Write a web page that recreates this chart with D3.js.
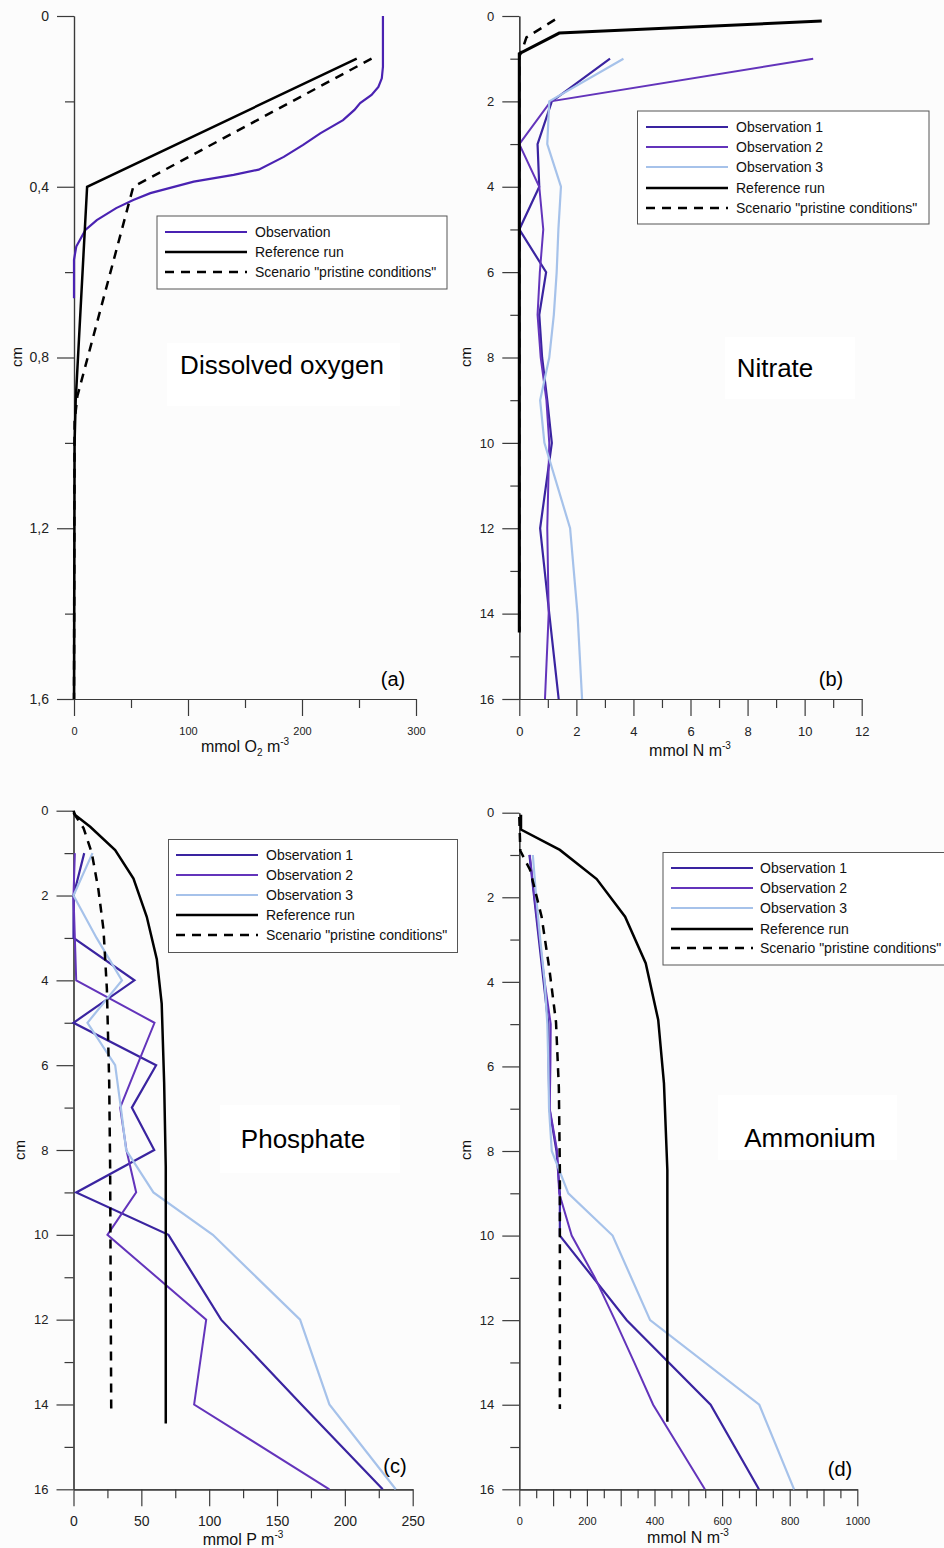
<!DOCTYPE html>
<html>
<head>
<meta charset="utf-8">
<script src="https://cdn.jsdelivr.net/npm/d3@7"></script>
<style>
  body { margin: 0; background: #fcfcfc; }
  svg { display: block; font-family: "Liberation Sans", Arial, sans-serif; }
</style>
</head>
<body>
<svg id="chart" width="944" height="1548"></svg>
<script>
// ---------- Dissolved oxygen (mmol O2 m-3) vs depth (cm) ----------
const oxyObsDepth = [0, 0.119, 0.146, 0.166, 0.185, 0.204, 0.22, 0.244, 0.275, 0.302, 0.33, 0.36, 0.372, 0.388, 0.415, 0.431, 0.45, 0.478, 0.501, 0.54, 0.571, 0.661];
const oxyObs      = [271, 271, 270, 267, 261, 251, 246, 236, 216, 201, 184, 162, 140, 105, 67, 52, 37, 20, 10, 2, 0, 0];
const oxyRefDepth = [0.1, 0.4, 0.9, 1.0, 1.6];
const oxyRef      = [248, 11.5, 1.5, 0.5, 0];
const oxyPrisDepth = [0.1, 0.4, 0.89, 0.95, 1.6];
const oxyPris      = [261, 52, 3, 0.5, 0];

// ---------- Nitrate (mmol N m-3) ----------
const obsDepth = [1, 2, 3, 4, 5, 6, 7, 8, 9, 10, 12, 14, 16];
const no3Obs1 = [3.18, 1.14, 0.64, 0.7, 0, 0.94, 0.7, 0.8, 0.98, 1.14, 0.73, 1.05, 1.38];
const no3Obs2 = [10.3, 1.1, 0, 0.7, 0.84, 0.72, 0.64, 0.75, 0.95, 1.05, 0.98, 1.03, 0.9];
const no3Obs3 = [3.65, 1.05, 0.98, 1.46, 1.37, 1.31, 1.21, 1.05, 0.73, 0.88, 1.78, 2.04, 2.2];
const no3RefDepth = [0.12, 0.4, 0.88, 14.44];
const no3Ref      = [10.6, 1.4, 0, 0];
const no3PrisDepth = [0.085, 0.5, 0.8, 0.95, 14.4];
const no3Pris      = [1.25, 0.25, 0.1, 0, 0];

// ---------- Phosphate (mmol P m-3) ----------
const po4Obs1 = [7.9, 0, 0, 44.9, 0, 60.9, 43, 59.5, 2, 70, 108.8, 168, 227.9];
const po4Obs2 = [1, 0, 1, 2, 59.7, 47, 34.4, 39, 46.2, 25, 97.8, 88.9, 188.6];
const po4Obs3 = [14, 0, 17, 35.7, 10.3, 30.7, 34.9, 38.8, 58.9, 102.7, 167, 188.6, 237.5];
const po4RefDepth = [0, 0.1, 0.38, 0.93, 1.6, 2.5, 3.5, 4.55, 6.4, 8.4, 14.45];
const po4Ref      = [0, 1.2, 12.3, 30.7, 44.2, 54, 61.4, 65, 66.8, 68, 68];
const po4PrisDepth = [0.05, 0.41, 1.0, 1.87, 2.8, 4.2, 6.4, 8.4, 14.1];
const po4Pris      = [0, 7.4, 13.5, 18.4, 22.1, 24.6, 26.3, 27, 27.8];

// ---------- Ammonium (mmol N m-3) ----------
const nh4Obs1Depth = [1, 2, 3, 4, 5, 6, 7, 8, 9, 10, 12, 14, 16];
const nh4Obs1 = [30, 44, 58, 72, 86, 87, 89, 110, 120, 120, 318, 566, 709];
const nh4Obs2Depth = [1, 2, 3, 4, 5, 6, 7, 8, 9, 10, 11, 12, 13, 14, 16];
const nh4Obs2 = [31, 45, 60, 75, 93, 92, 90, 112, 118, 155, 224, 283, 340, 396, 549];
const nh4Obs3Depth = [1, 2, 3, 4, 5, 6, 7, 8, 9, 10, 12, 14, 16];
const nh4Obs3 = [40, 50, 62, 75, 83, 86, 88, 96, 145, 276, 387, 710, 813];
const nh4RefDepth = [0.05, 0.4, 0.88, 1.57, 2.46, 3.56, 4.9, 6.4, 8.45, 14.4];
const nh4Ref      = [5, 5, 120, 229, 313, 374, 411, 428, 438, 438];
const nh4PrisDepth = [0.1, 0.9, 1.35, 2.46, 3.7, 4.95, 6.5, 8.45, 14.1];
const nh4Pris      = [0, 3, 31.6, 66, 89, 108.6, 117, 120, 120];

// ---------- legend labels ----------
const legendSingle = ["Observation", "Reference run", "Scenario \"pristine conditions\""];
const legendTriple = ["Observation 1", "Observation 2", "Observation 3", "Reference run", "Scenario \"pristine conditions\""];

// ---------- styles ----------
const C = {
  obs: "#4a22b2",
  obs1: "#3a24a0",
  obs2: "#6334bb",
  obs3: "#a6c2ea",
  black: "#000000",
  axis: "#3a3a3a"
};
const DASH = "9,7";

const svg = d3.select("#chart");
svg.append("rect").attr("width", 944).attr("height", 1548).attr("fill", "#fcfcfc");

const zip = (zs, vs) => zs.map((z, i) => ({ z, v: vs[i] }));
const commaFmt = d => d === 0 ? "0" : d3.format(".1f")(d).replace(".", ",");

function panel(cfg) {
  const g = svg.append("g");
  const x = d3.scaleLinear().domain(cfg.xDomain).range(cfg.xRange);
  const y = d3.scaleLinear().domain(cfg.yDomain).range(cfg.yRange);

  // faint white box behind the panel title
  g.append("rect").attr("x", cfg.titleBox[0]).attr("y", cfg.titleBox[1])
    .attr("width", cfg.titleBox[2]).attr("height", cfg.titleBox[3]).attr("fill", "#ffffff");

  const x0 = cfg.xRange[0], yB = cfg.yRange[1];

  // minor ticks
  const yMinor = g.append("g").attr("transform", `translate(${x0},0)`)
    .call(d3.axisLeft(y).tickValues(cfg.yMinor).tickSize(9).tickSizeOuter(0).tickFormat(""));
  const xMinor = g.append("g").attr("transform", `translate(0,${yB})`)
    .call(d3.axisBottom(x).tickValues(cfg.xMinor).tickSize(9).tickSizeOuter(0).tickFormat(""));

  // major ticks with labels
  const yAx = g.append("g").attr("transform", `translate(${x0},0)`)
    .call(d3.axisLeft(y).tickValues(cfg.yMajor).tickSize(17).tickSizeOuter(0)
      .tickPadding(8).tickFormat(cfg.yFmt || d3.format("d")));
  const xAx = g.append("g").attr("transform", `translate(0,${yB})`)
    .call(d3.axisBottom(x).tickValues(cfg.xMajor).tickSize(17).tickSizeOuter(0)
      .tickPadding(cfg.xPad).tickFormat(cfg.xFmt || d3.format("d")));

  [yMinor, xMinor, yAx, xAx].forEach(a => {
    a.selectAll("path.domain").attr("stroke", C.axis).attr("stroke-width", 1.2);
    a.selectAll(".tick line").attr("stroke", C.axis).attr("stroke-width", 1.2);
    a.selectAll("text").attr("fill", "#222").attr("font-family", "Liberation Sans, Arial, sans-serif");
  });
  yAx.selectAll("text").attr("font-size", cfg.yFont);
  xAx.selectAll("text").attr("font-size", cfg.xFont);

  // series
  const line = d3.line().x(d => x(d.v)).y(d => y(d.z));
  cfg.series.forEach(s => {
    g.append("path").datum(s.data).attr("d", line)
      .attr("fill", "none").attr("stroke", s.color).attr("stroke-width", s.width)
      .attr("stroke-dasharray", s.dash || null)
      .attr("stroke-linejoin", "miter").attr("stroke-linecap", "butt");
  });

  // legend
  const L = cfg.legend;
  g.append("rect").attr("x", L.box[0]).attr("y", L.box[1]).attr("width", L.box[2]).attr("height", L.box[3])
    .attr("fill", "#ffffff").attr("stroke", "#555").attr("stroke-width", 1);
  L.labels.forEach((lab, i) => {
    const s = cfg.series[L.order[i]];
    const yy = L.ys[i];
    g.append("line").attr("x1", L.lineX[0]).attr("x2", L.lineX[1]).attr("y1", yy).attr("y2", yy)
      .attr("stroke", s.color).attr("stroke-width", s.legendWidth || s.width)
      .attr("stroke-dasharray", s.dash || null);
    g.append("text").attr("x", L.textX).attr("y", yy).attr("dy", "0.35em")
      .attr("font-size", 14).attr("fill", "#111").text(lab);
  });

  // title
  g.append("text").attr("x", cfg.title[1]).attr("y", cfg.title[2]).attr("text-anchor", "middle")
    .attr("font-size", 26).attr("fill", "#000").text(cfg.title[0]);
  // panel letter
  g.append("text").attr("x", cfg.letter[1]).attr("y", cfg.letter[2]).attr("text-anchor", "middle")
    .attr("font-size", 20).attr("fill", "#000").text(cfg.letter[0]);
  // y axis label
  g.append("text").attr("transform", `translate(${cfg.cm[0]},${cfg.cm[1]}) rotate(-90)`)
    .attr("text-anchor", "middle").attr("dominant-baseline", "central")
    .attr("font-size", 15).attr("fill", "#111").text("cm");
  // x axis label with sub/superscripts
  const t = g.append("text").attr("x", cfg.xTitle.x).attr("y", cfg.xTitle.y)
    .attr("text-anchor", "middle").attr("font-size", 16).attr("fill", "#111");
  cfg.xTitle.parts.forEach(p => {
    const ts = t.append("tspan").text(p.t);
    if (p.sub) ts.attr("font-size", 10).attr("dy", 4);
    if (p.sup) ts.attr("font-size", 10).attr("dy", -7);
    if (p.reset) ts.attr("dy", p.reset);
  });
}

// (a) Dissolved oxygen
panel({
  xDomain: [0, 300], xRange: [74, 416],
  yDomain: [0, 1.6], yRange: [16, 699],
  yMajor: [0, 0.4, 0.8, 1.2, 1.6], yMinor: [0.2, 0.6, 1.0, 1.4], yFmt: commaFmt, yFont: 14,
  xMajor: [0, 100, 200, 300], xMinor: [50, 150, 250], xFont: 11, xPad: 11,
  series: [
    { data: zip(oxyObsDepth, oxyObs), color: C.obs, width: 2.2 },
    { data: zip(oxyRefDepth, oxyRef), color: C.black, width: 2.5 },
    { data: zip(oxyPrisDepth, oxyPris), color: C.black, width: 2.5, dash: DASH }
  ],
  legend: { box: [157, 216, 290, 73], ys: [232, 252, 272], lineX: [165, 247], textX: 255,
            labels: legendSingle, order: [0, 1, 2] },
  titleBox: [167, 343, 233, 63],
  title: ["Dissolved oxygen", 282, 374],
  letter: ["(a)", 393, 686],
  cm: [16, 357],
  xTitle: { x: 245, y: 752, parts: [{ t: "mmol O" }, { t: "2", sub: true }, { t: " m", reset: -4 }, { t: "-3", sup: true }] }
});

// (b) Nitrate
panel({
  xDomain: [0, 12], xRange: [519.3, 861.7],
  yDomain: [0, 16], yRange: [16, 699],
  yMajor: d3.range(0, 17, 2), yMinor: d3.range(1, 16, 2), yFont: 13,
  xMajor: d3.range(0, 13, 2), xMinor: d3.range(1, 12, 2), xFont: 13, xPad: 11,
  series: [
    { data: zip(obsDepth, no3Obs1), color: C.obs1, width: 2.2 },
    { data: zip(obsDepth, no3Obs2), color: C.obs2, width: 2 },
    { data: zip(obsDepth, no3Obs3), color: C.obs3, width: 2.2 },
    { data: zip(no3RefDepth, no3Ref), color: C.black, width: 3, legendWidth: 2.5 },
    { data: zip(no3PrisDepth, no3Pris), color: C.black, width: 2.5, dash: DASH }
  ],
  legend: { box: [637.5, 111, 291.5, 113], ys: [127, 147, 167, 188, 208], lineX: [646, 728], textX: 736,
            labels: legendTriple, order: [0, 1, 2, 3, 4] },
  titleBox: [725, 337, 130, 62],
  title: ["Nitrate", 775, 377],
  letter: ["(b)", 831, 686],
  cm: [465, 357],
  xTitle: { x: 690, y: 756, parts: [{ t: "mmol N m" }, { t: "-3", sup: true }] }
});

// (c) Phosphate
panel({
  xDomain: [0, 250], xRange: [73.5, 412.7],
  yDomain: [0, 16], yRange: [810.7, 1489.3],
  yMajor: d3.range(0, 17, 2), yMinor: d3.range(1, 16, 2), yFont: 13,
  xMajor: d3.range(0, 251, 50), xMinor: d3.range(25, 250, 50), xFont: 14, xPad: 10,
  series: [
    { data: zip(obsDepth, po4Obs1), color: C.obs1, width: 2.2 },
    { data: zip(obsDepth, po4Obs2), color: C.obs2, width: 2 },
    { data: zip(obsDepth, po4Obs3), color: C.obs3, width: 2.2 },
    { data: zip(po4RefDepth, po4Ref), color: C.black, width: 2.5 },
    { data: zip(po4PrisDepth, po4Pris), color: C.black, width: 2.5, dash: DASH }
  ],
  legend: { box: [168.5, 839.5, 289, 113], ys: [855, 875, 895, 915, 935], lineX: [176, 258], textX: 266,
            labels: legendTriple, order: [0, 1, 2, 3, 4] },
  titleBox: [220, 1105, 180, 68],
  title: ["Phosphate", 303, 1148],
  letter: ["(c)", 395, 1473],
  cm: [19, 1150],
  xTitle: { x: 243, y: 1545, parts: [{ t: "mmol P m" }, { t: "-3", sup: true }] }
});

// (d) Ammonium
panel({
  xDomain: [0, 1000], xRange: [519.3, 857.3],
  yDomain: [0, 16], yRange: [812.7, 1489.3],
  yMajor: d3.range(0, 17, 2), yMinor: d3.range(1, 16, 2), yFont: 13,
  xMajor: d3.range(0, 1001, 100), xMinor: d3.range(50, 1000, 100), xFont: 11, xPad: 11,
  xFmt: d => d % 200 === 0 ? d : "",
  series: [
    { data: zip(nh4Obs1Depth, nh4Obs1), color: C.obs1, width: 2.2 },
    { data: zip(nh4Obs2Depth, nh4Obs2), color: C.obs2, width: 2 },
    { data: zip(nh4Obs3Depth, nh4Obs3), color: C.obs3, width: 2.2 },
    { data: zip(nh4RefDepth, nh4Ref), color: C.black, width: 2.5 },
    { data: zip(nh4PrisDepth, nh4Pris), color: C.black, width: 2.5, dash: DASH }
  ],
  legend: { box: [663, 852.5, 290, 112.5], ys: [868, 888, 908, 929, 948], lineX: [671, 753], textX: 760,
            labels: legendTriple, order: [0, 1, 2, 3, 4] },
  titleBox: [718, 1095, 179, 65],
  title: ["Ammonium", 810, 1147],
  letter: ["(d)", 840, 1476],
  cm: [465, 1150],
  xTitle: { x: 688, y: 1543, parts: [{ t: "mmol N m" }, { t: "-3", sup: true }] }
});
</script>
</body>
</html>
